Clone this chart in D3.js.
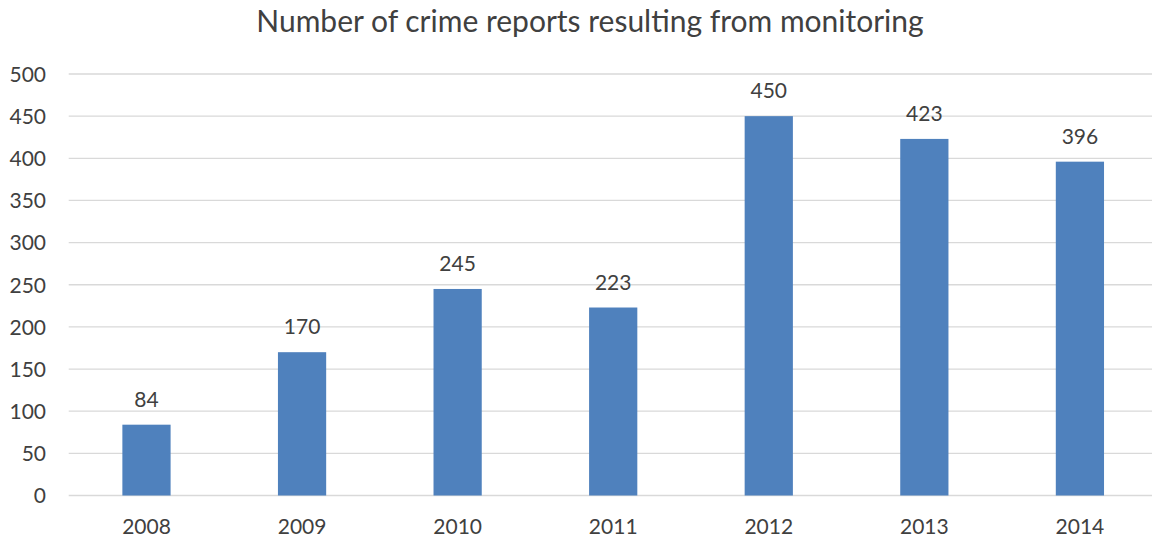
<!DOCTYPE html>
<html>
<head>
<meta charset="utf-8">
<script src="https://cdn.jsdelivr.net/npm/d3@7"></script>
<style>
  html, body { margin: 0; padding: 0; background: #fff; overflow: hidden; }
  svg { display: block; font-family: Lato, "Open Sans", sans-serif; }
</style>
</head>
<body>
<svg id="chart" width="1152" height="541"></svg>
<script>
// Crime reports per year
const years = ["2008", "2009", "2010", "2011", "2012", "2013", "2014"];
const reports = [84, 170, 245, 223, 450, 423, 396];
const yTicks = [0, 50, 100, 150, 200, 250, 300, 350, 400, 450, 500];
const titleText = "Number of crime reports resulting from monitoring";

const svg = d3.select("#chart");
const W = 1152, H = 541;
const plot = { left: 68.7, right: 1157.7, top: 74, bottom: 495.5 };
const textColor = "#404040";

const x = d3.scaleBand()
  .domain(years)
  .range([plot.left, plot.right])
  .paddingInner(0.69)
  .paddingOuter(0.345);

const y = d3.scaleLinear()
  .domain([0, 500])
  .range([plot.bottom, plot.top]);

// Title
svg.append("text")
  .attr("x", 590)
  .attr("y", 32)
  .attr("text-anchor", "middle")
  .attr("fill", textColor)
  .style("font-size", "30px")
  .text(titleText);

// Horizontal gridlines
svg.append("g")
  .selectAll("line")
  .data(yTicks)
  .join("line")
  .attr("x1", plot.left)
  .attr("x2", W)
  .attr("y1", d => y(d))
  .attr("y2", d => y(d))
  .attr("stroke", "#d9d9d9")
  .attr("stroke-width", 1.3);

// Y axis labels
const yAxis = d3.axisLeft(y).tickValues(yTicks).tickSize(0).tickPadding(0);
const gy = svg.append("g")
  .attr("transform", `translate(46,0)`)
  .call(yAxis);
gy.select(".domain").remove();
gy.selectAll("text")
  .attr("fill", textColor)
  .style("font-size", "21px")
  .style("font-family", "Lato, sans-serif")
  .attr("dy", "0.35em");

// Bars
svg.append("g")
  .selectAll("rect")
  .data(reports)
  .join("rect")
  .attr("x", (d, i) => x(years[i]))
  .attr("y", d => y(d))
  .attr("width", x.bandwidth())
  .attr("height", d => y(0) - y(d))
  .attr("fill", "#4f81bd");

// Value labels
svg.append("g")
  .selectAll("text")
  .data(reports)
  .join("text")
  .attr("x", (d, i) => x(years[i]) + x.bandwidth() / 2)
  .attr("y", d => y(d) - 18)
  .attr("text-anchor", "middle")
  .attr("fill", textColor)
  .style("font-size", "21px")
  .text(d => d);

// X axis labels
const xAxis = d3.axisBottom(x).tickSize(0).tickPadding(0);
const gx = svg.append("g")
  .attr("transform", `translate(0,534)`)
  .call(xAxis);
gx.select(".domain").remove();
gx.selectAll("text")
  .attr("fill", textColor)
  .attr("dy", 0)
  .style("font-size", "21px")
  .style("font-family", "Lato, sans-serif");
</script>
</body>
</html>
